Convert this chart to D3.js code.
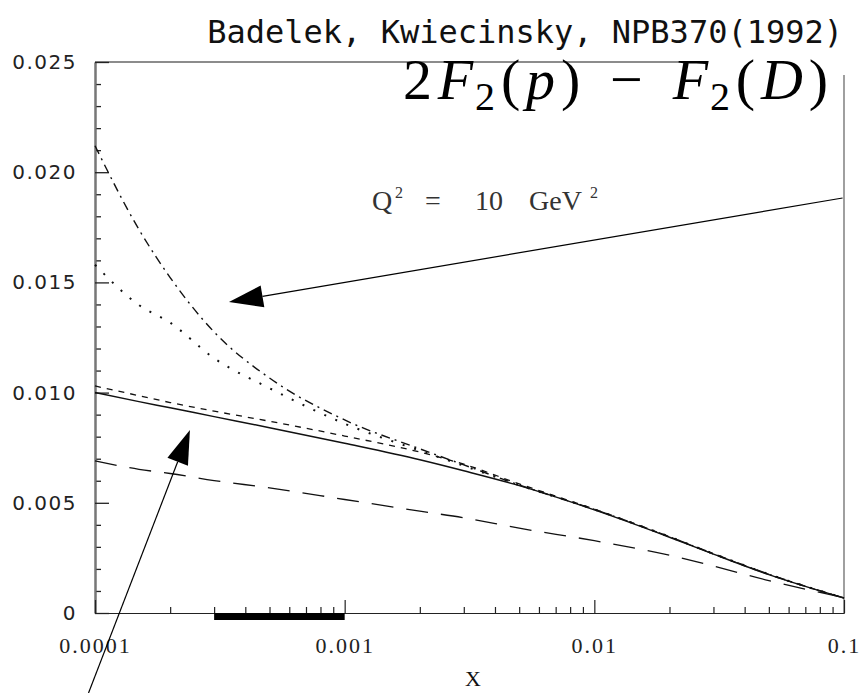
<!DOCTYPE html>
<html>
<head>
<meta charset="utf-8">
<script src="https://cdn.jsdelivr.net/npm/d3@7"></script>
<style>
  body { margin: 0; background: #fff; }
  svg { display: block; }
</style>
</head>
<body>
<svg id="chart" width="862" height="693"></svg>
<script>
// Bjorken x sampling points shared by every curve
const xValues = [1e-4, 1.5e-4, 2e-4, 3e-4, 5e-4, 1e-3, 2e-3, 3e-3, 5e-3, 1e-2, 2e-2, 3e-2, 5e-2, 1e-1];

// 2F2(p) - F2(D) predictions, one array per model curve
const dashDotCurve   = [0.0212, 0.0174, 0.01522, 0.01275, 0.01066, 0.00876, 0.00745, 0.00672, 0.00581, 0.00470, 0.00346, 0.00269, 0.00176, 0.00068];
const dottedCurve    = [0.0158, 0.01397, 0.01317, 0.01156, 0.01020, 0.00859, 0.00737, 0.00668, 0.00580, 0.00470, 0.00346, 0.00269, 0.00176, 0.00068];
const shortDashCurve = [0.0103, 0.00986, 0.00955, 0.00916, 0.00870, 0.00803, 0.00730, 0.00675, 0.00586, 0.00471, 0.00346, 0.00268, 0.00175, 0.00068];
const solidCurve     = [0.0100, 0.00959, 0.00931, 0.00891, 0.00841, 0.00770, 0.00695, 0.00645, 0.00578, 0.00468, 0.00344, 0.00267, 0.00174, 0.00068];
const longDashCurve  = [0.0069, 0.00652, 0.00633, 0.00601, 0.00568, 0.00515, 0.00462, 0.00432, 0.00385, 0.00328, 0.00262, 0.00213, 0.00147, 0.00070];

// x range covered by the measurement (thick bar on the x axis)
const dataRange = [3e-4, 1e-3];

// axis ticks and labels
const yMajorTicks = [0, 0.005, 0.010, 0.015, 0.020, 0.025];
const yMajorLabels = ["0", "0.005", "0.010", "0.015", "0.020", "0.025"];
const xMajorTicks = [1e-4, 1e-3, 1e-2, 1e-1];
const xMajorLabels = ["0.0001", "0.001", "0.01", "0.1"];

// annotation arrows: [tail, tip] in data coordinates (x, value)
const arrowUpper = [[0.0987, 0.01883], [3.44e-4, 0.01411]];
const arrowLower = [[9.42e-5, -0.00363], [2.40e-4, 0.00830]];

const svg = d3.select("#chart");
const plotLeft = 95, plotRight = 844, plotTop = 62, plotBottom = 613;

const x = d3.scaleLog().domain([1e-4, 0.1]).range([plotLeft, plotRight]);
const y = d3.scaleLinear().domain([0, 0.025]).range([plotBottom, plotTop]);

// title
svg.append("text")
  .attr("x", 843).attr("y", 43)
  .attr("text-anchor", "end")
  .attr("font-family", "DejaVu Sans Mono")
  .attr("font-size", 32)
  .attr("fill", "#111")
  .text("Badelek, Kwiecinsky, NPB370(1992)");

// frame pieces (top and right) in grey
svg.append("line").attr("x1", plotLeft).attr("x2", 700).attr("y1", plotTop).attr("y2", plotTop)
  .attr("stroke", "#666").attr("stroke-width", 1.6);
svg.append("line").attr("x1", plotRight).attr("x2", plotRight).attr("y1", 75).attr("y2", plotBottom)
  .attr("stroke", "#777").attr("stroke-width", 1.4);

// y axis: major and minor inward ticks
const yMinor = d3.range(0, 0.0251, 0.001).filter(v => Math.abs(v / 0.005 - Math.round(v / 0.005)) > 1e-6);
const yAxisMinor = d3.axisLeft(y).tickValues(yMinor).tickSizeInner(-6).tickSizeOuter(0).tickFormat("");
const yAxisMajor = d3.axisLeft(y).tickValues(yMajorTicks).tickSizeInner(-14).tickSizeOuter(0)
  .tickPadding(18).tickFormat((d, i) => yMajorLabels[i]);

const gyMinor = svg.append("g").attr("transform", `translate(${plotLeft},0)`).call(yAxisMinor);
const gy = svg.append("g").attr("transform", `translate(${plotLeft},0)`).call(yAxisMajor);
[gyMinor, gy].forEach(g => {
  g.select(".domain").attr("stroke", "#777").attr("stroke-width", 2);
  g.selectAll(".tick line").attr("stroke", "#222").attr("stroke-width", 1.3);
});
gy.selectAll(".tick text")
  .attr("font-family", "DejaVu Sans")
  .attr("font-size", 20)
  .attr("letter-spacing", 1.5)
  .attr("fill", "#222");

// x axis: decades plus 2..9 minor ticks
const xMinor = [];
xMajorTicks.slice(0, -1).forEach(d => { for (let k = 2; k <= 9; k++) xMinor.push(d * k); });
const xAxisMinor = d3.axisBottom(x).tickValues(xMinor).tickSizeInner(-6).tickSizeOuter(0).tickFormat("");
const xAxisMajor = d3.axisBottom(x).tickValues(xMajorTicks).tickSizeInner(-13).tickSizeOuter(0)
  .tickPadding(24).tickFormat((d, i) => xMajorLabels[i]);

const gxMinor = svg.append("g").attr("transform", `translate(0,${plotBottom})`).call(xAxisMinor);
const gx = svg.append("g").attr("transform", `translate(0,${plotBottom})`).call(xAxisMajor);
[gxMinor, gx].forEach(g => {
  g.select(".domain").attr("stroke", "#222").attr("stroke-width", 1.2);
  g.selectAll(".tick line").attr("stroke", "#222").attr("stroke-width", 1.2);
});
gx.selectAll(".tick text")
  .attr("font-family", "Liberation Serif")
  .attr("font-size", 22)
  .attr("letter-spacing", 2)
  .attr("fill", "#222");

// thick bar marking the measured x range
svg.append("rect")
  .attr("x", x(dataRange[0]))
  .attr("width", x(dataRange[1]) - x(dataRange[0]))
  .attr("y", y(0))
  .attr("height", 7)
  .attr("fill", "#000");

// axis title
svg.append("text")
  .attr("x", 473).attr("y", 686)
  .attr("text-anchor", "middle")
  .attr("font-family", "Liberation Serif")
  .attr("font-size", 22)
  .attr("fill", "#111")
  .text("X");

// model curves
const line = d3.line()
  .x(d => x(d[0]))
  .y(d => y(d[1]))
  .curve(d3.curveMonotoneX);

const series = [
  { values: longDashCurve, dash: "22,13", width: 1.3 },
  { values: solidCurve, dash: null, width: 1.5 },
  { values: shortDashCurve, dash: "6,6", width: 1.3 },
  { values: dottedCurve, dash: "2,10", width: 2.0 },
  { values: dashDotCurve, dash: "9,5,2,5", width: 1.4 }
];

svg.append("g").selectAll("path")
  .data(series)
  .join("path")
  .attr("d", s => line(xValues.map((xv, i) => [xv, s.values[i]])))
  .attr("fill", "none")
  .attr("stroke", "#111")
  .attr("stroke-width", s => s.width)
  .attr("stroke-dasharray", s => s.dash);

// formula label: 2F_2(p) - F_2(D)
const formula = svg.append("text")
  .attr("x", 828).attr("y", 99)
  .attr("text-anchor", "end")
  .attr("font-family", "Liberation Serif")
  .attr("font-size", 58)
  .attr("textLength", 425)
  .attr("lengthAdjust", "spacing")
  .attr("fill", "#000");
const parts = [
  ["2", "normal"], ["F", "italic"], ["2", "sub"], ["(", "normal"], ["p", "italic"],
  [")", "normal"], ["\u2212", "op"], ["F", "italic"], ["2", "sub"],
  ["(", "normal"], ["D", "italic"], [")", "normal"]
];
let wasSub = false, afterOp = false;
parts.forEach(([t, kind]) => {
  const ts = formula.append("tspan").text(t);
  if (kind === "italic") ts.attr("font-style", "italic");
  let dx = 0;
  if (kind === "op") dx += 24;
  if (afterOp) dx += 24;
  afterOp = kind === "op";
  if (kind === "sub") {
    ts.attr("font-size", 40).attr("dy", 11);
    dx -= 4;
    wasSub = true;
  } else if (wasSub) {
    ts.attr("dy", -11);
    wasSub = false;
  }
  if (dx) ts.attr("dx", dx);
});

// Q^2 label
const qlab = svg.append("text")
  .attr("y", 210)
  .attr("font-family", "Liberation Serif")
  .attr("font-size", 28)
  .attr("fill", "#333");
qlab.append("tspan").attr("x", 372).text("Q");
qlab.append("tspan").attr("x", 395).attr("dy", -12).attr("font-size", 16).text("2");
qlab.append("tspan").attr("x", 425).attr("dy", 12).text("=");
qlab.append("tspan").attr("x", 475).text("10");
qlab.append("tspan").attr("x", 529).text("GeV");
qlab.append("tspan").attr("x", 590).attr("dy", -12).attr("font-size", 16).text("2");

// annotation arrows with filled heads
function drawArrow(pts) {
  const [x0, y0] = [x(pts[0][0]), y(pts[0][1])];
  const [x1, y1] = [x(pts[1][0]), y(pts[1][1])];
  const ang = Math.atan2(y1 - y0, x1 - x0);
  const len = 34, half = 11;
  const bx = x1 - len * Math.cos(ang), by = y1 - len * Math.sin(ang);
  svg.append("line")
    .attr("x1", x0).attr("y1", y0).attr("x2", bx).attr("y2", by)
    .attr("stroke", "#000").attr("stroke-width", 1.2);
  const p = [
    [x1, y1],
    [bx + half * Math.sin(ang), by - half * Math.cos(ang)],
    [bx - half * Math.sin(ang), by + half * Math.cos(ang)]
  ];
  svg.append("polygon").attr("points", p.map(q => q.join(",")).join(" ")).attr("fill", "#000");
}
drawArrow(arrowUpper);
drawArrow(arrowLower);
</script>
</body>
</html>
